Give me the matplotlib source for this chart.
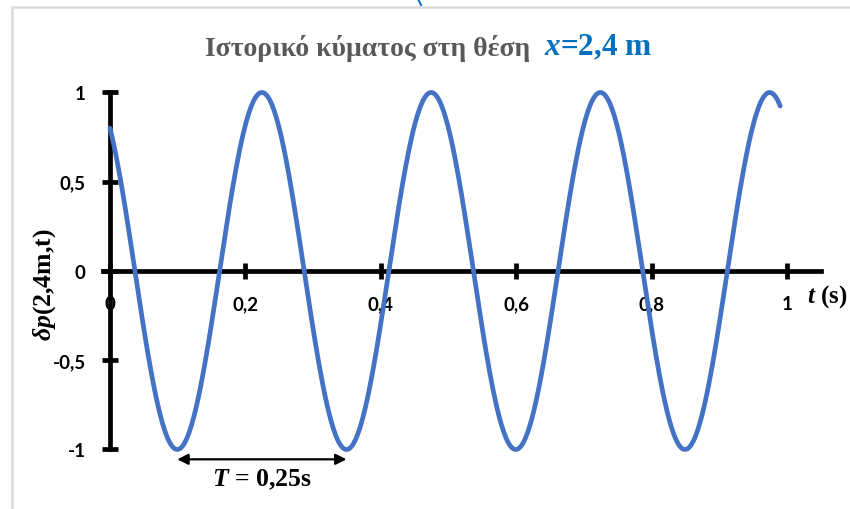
import numpy as np
import matplotlib
matplotlib.use("Agg")
import matplotlib.pyplot as plt
from matplotlib.ticker import FuncFormatter
from matplotlib.lines import Line2D

# wave parameters at x = 2,4 m
PERIOD = 0.25          # s
AMPLITUDE = 1.0
DP_AT_ZERO = 0.8       # value of the pressure change at t = 0
T_END = 0.99           # s, last sampled time

X_TICKS = [0, 0.2, 0.4, 0.6, 0.8, 1]
Y_TICKS = [-1, -0.5, 0, 0.5, 1]

TITLE_TEXT = "Ιστορικό κύματος στη θέση"
TITLE_POS = r"$x$=2,4 m"
Y_LABEL = r"$\delta p$(2,4m,t)"
X_LABEL = r"$t$ (s)"
PERIOD_LABEL = r"$T$ = 0,25s"

LINE_BLUE = "#4472C4"
TITLE_BLUE = "#0070C0"
TITLE_GREY = "#595959"

plt.rcParams["mathtext.fontset"] = "custom"
plt.rcParams["mathtext.rm"] = "Liberation Serif:bold"
plt.rcParams["mathtext.it"] = "Liberation Serif:italic:bold"
plt.rcParams["mathtext.bf"] = "Liberation Serif:bold"

# sampled wave, decreasing through DP_AT_ZERO at t = 0
omega = 2 * np.pi / PERIOD
phase = np.arccos(DP_AT_ZERO / AMPLITUDE)
t = np.linspace(0, T_END, 600)
dp = AMPLITUDE * np.cos(omega * t + phase)

fig = plt.figure(figsize=(8.5, 5.1), dpi=100)
ax = fig.add_axes([15.2 / 850, 5.95 / 510, 832.7 / 850, 455.2 / 510])
ax.set_xlim(-0.14, 1.09)
ax.set_ylim(-1.3, 1.25)

ax.plot(t, dp, color=LINE_BLUE, lw=3.4, solid_capstyle="round", zorder=3)

# axes through the origin
for side in ["top", "right"]:
    ax.spines[side].set_visible(False)
ax.spines["left"].set_position(("data", 0))
ax.spines["bottom"].set_position(("data", 0))
ax.spines["left"].set_bounds(-1, 1)
ax.spines["bottom"].set_bounds(-0.01, 1.05)
for side in ["left", "bottom"]:
    ax.spines[side].set_linewidth(3.4)
    ax.spines[side].set_zorder(2)

ax.set_xticks(X_TICKS)
ax.set_yticks(Y_TICKS)
comma = FuncFormatter(lambda v, pos: f"{v:g}".replace(".", ","))
ax.xaxis.set_major_formatter(comma)
ax.yaxis.set_major_formatter(comma)
ax.tick_params(direction="inout", length=11, width=3.4, labelsize=13.5)
ax.tick_params(axis="x", pad=12)
ax.tick_params(axis="y", pad=12)
for lab in ax.get_xticklabels() + ax.get_yticklabels():
    lab.set_fontfamily("Lato")
    lab.set_fontweight("bold")

ax.text(1.03, -0.14, X_LABEL, fontsize=18, fontfamily="Liberation Serif",
        fontweight="bold", ha="left", va="center")
ax.text(-0.096, -0.07, Y_LABEL, fontsize=18.5, fontfamily="Liberation Serif",
        fontweight="bold", rotation=90, rotation_mode="anchor",
        ha="center", va="center")

# period marker between two successive minima
t_min = (np.pi - phase) / omega
ax.annotate("", xy=(t_min, -1.055), xytext=(t_min + PERIOD, -1.055),
            arrowprops=dict(arrowstyle="<|-|>", color="black", lw=1.6,
                            mutation_scale=16, shrinkA=0, shrinkB=0))
ax.text(t_min + PERIOD / 2, -1.165, PERIOD_LABEL, fontsize=18.5,
        fontfamily="Liberation Serif", fontweight="bold", ha="center", va="center")

# two-colour title
fig.text(530 / 850, 1 - 48 / 510, TITLE_TEXT, color=TITLE_GREY, fontsize=20,
         fontfamily="Liberation Serif", fontweight="bold", ha="right", va="center")
fig.text(544 / 850, 1 - 48 / 510, TITLE_POS, color=TITLE_BLUE, fontsize=22.5,
         fontfamily="Liberation Serif", fontweight="bold", ha="left", va="center")

# light frame along the top and left
fig.add_artist(Line2D([12 / 850, 12 / 850, 1], [0, 1 - 8 / 510, 1 - 8 / 510],
                      color="#D9D9D9", lw=1.8, transform=fig.transFigure))
fig.add_artist(Line2D([418 / 850, 421 / 850], [1, 1 - 6 / 510],
                      color=TITLE_BLUE, lw=1.4, transform=fig.transFigure))

fig.savefig("out.png", dpi=100)
